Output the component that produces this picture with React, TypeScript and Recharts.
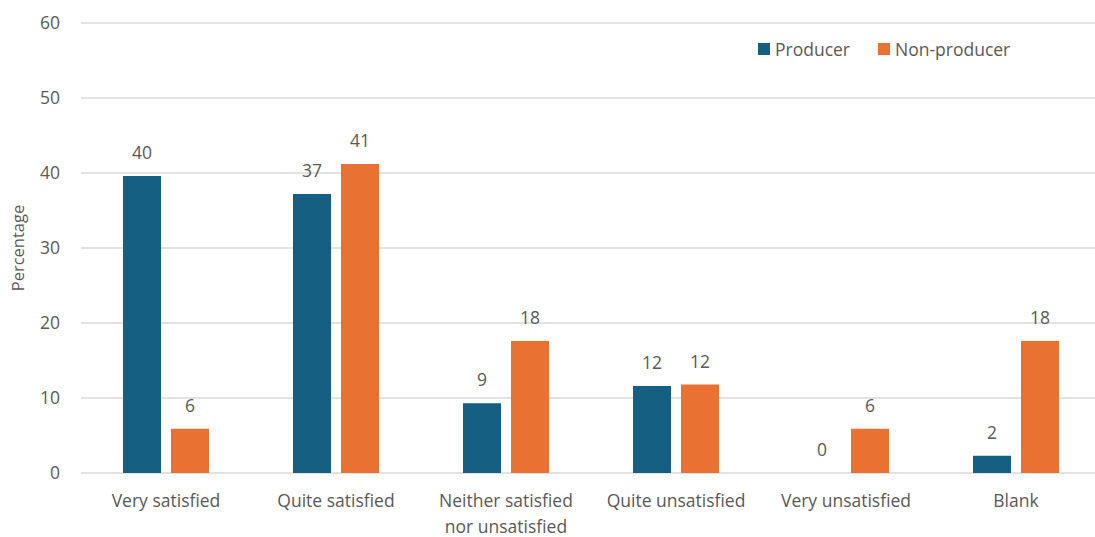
import {
  Bar,
  BarChart,
  CartesianGrid,
  Rectangle,
  XAxis,
  YAxis,
} from "recharts";

const categories = [
  "Very satisfied",
  "Quite satisfied",
  "Neither satisfied\nnor unsatisfied",
  "Quite unsatisfied",
  "Very unsatisfied",
  "Blank",
];
const producer = [39.6, 37.2, 9.3, 11.6, 0, 2.3];
const nonProducer = [5.9, 41.2, 17.6, 11.8, 5.9, 17.6];
const yTicks = [0, 10, 20, 30, 40, 50, 60];

const BLUE = "#156082";
const ORANGE = "#E97132";
const TEXT = "#595959";
const FONT = "'Open Sans', sans-serif";

const data = categories.map((name, i) => ({
  name,
  producer: producer[i],
  nonProducer: nonProducer[i],
}));

// multi-line category label, split on "\n"
function CatTick(props: any) {
  const { x, y, payload } = props;
  const lines = String(payload.value).split("\n");
  return (
    <text x={x} y={y} textAnchor="middle" fill={TEXT} fontSize={17.5} fontFamily={FONT}>
      {lines.map((l, i) => (
        <tspan key={i} x={x} dy={i === 0 ? 32 : 26}>
          {l}
        </tspan>
      ))}
    </text>
  );
}

function ValueLabel(props: any) {
  const { x, y, width, height, value } = props;
  if (value === undefined || value === null) return null;
  // zero bars get a 1px stub (minPointSize) so the label exists; anchor on the baseline
  const top = Number(value) === 0 ? Number(y) + Number(height) : Number(y);
  return (
    <text
      x={Number(x) + Number(width) / 2}
      y={top - 17}
      textAnchor="middle"
      fill={TEXT}
      fontSize={17.5}
      fontFamily={FONT}
    >
      {Math.round(Number(value))}
    </text>
  );
}

// hide the stub drawn for zero values
function BarShape(props: any) {
  if (Number(props.value) === 0) return null;
  return <Rectangle {...props} />;
}

function LegendBox() {
  const items = [
    { label: "Producer", color: BLUE },
    { label: "Non-producer", color: ORANGE },
  ];
  return (
    <div
      style={{
        position: "absolute",
        left: 758,
        top: 37,
        display: "flex",
        gap: 8,
        fontFamily: FONT,
        fontSize: 17.5,
        color: TEXT,
      }}
    >
      {items.map((it) => (
        <div key={it.label} style={{ display: "flex", alignItems: "center", gap: 5, marginRight: 20 }}>
          <span style={{ width: 12, height: 12, background: it.color, display: "inline-block" }} />
          <span>{it.label}</span>
        </div>
      ))}
    </div>
  );
}

export default function App() {
  return (
    <div
      style={{
        position: "absolute",
        left: 0,
        top: 0,
        width: 1095,
        height: 537,
        overflow: "hidden",
        background: "#fff",
      }}
    >
      {/* plot runs past the right edge of the frame, as in the source image */}
      <BarChart
        width={1101}
        height={537}
        data={data}
        margin={{ top: 23, right: 0, bottom: 0, left: 0 }}
        barSize={38}
        barGap={10}
      >
        <CartesianGrid vertical={false} stroke="#d9d9d9" strokeWidth={1.5} />
        <XAxis
          dataKey="name"
          axisLine={false}
          tickLine={false}
          tickSize={0}
          height={64}
          interval={0}
          tick={<CatTick />}
        />
        <YAxis
          width={81}
          domain={[0, 60]}
          ticks={yTicks}
          axisLine={false}
          tickLine={false}
          tickSize={0}
          tickMargin={21}
          tick={{ fill: TEXT, fontSize: 17.5, fontFamily: FONT }}
          label={{
            value: "Percentage",
            angle: -90,
            position: "insideLeft",
            dx: 13,
            fill: TEXT,
            fontSize: 16.5,
            fontFamily: FONT,
            style: { textAnchor: "middle" },
          }}
        />
        <Bar
          dataKey="producer"
          name="Producer"
          fill={BLUE}
          minPointSize={1}
          shape={<BarShape />}
          isAnimationActive={false}
          label={<ValueLabel />}
        />
        <Bar
          dataKey="nonProducer"
          name="Non-producer"
          fill={ORANGE}
          isAnimationActive={false}
          label={<ValueLabel />}
        />
      </BarChart>
      <LegendBox />
    </div>
  );
}
